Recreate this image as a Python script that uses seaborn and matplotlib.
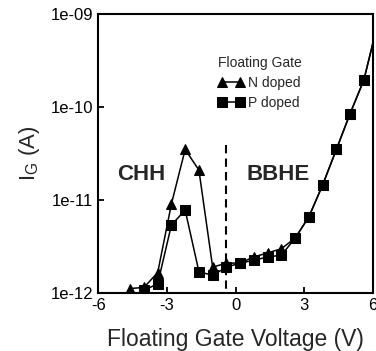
import numpy as np
import pandas as pd
import matplotlib
matplotlib.use("Agg")
import matplotlib.pyplot as plt
import seaborn as sns

# gate voltage (V) and gate current (A)
v_n = [-4.6, -4.0, -3.4, -2.8, -2.2, -1.6, -1.0, -0.4, 0.2, 0.8, 1.4, 2.0,
       2.6, 3.2, 3.8, 4.4, 5.0, 5.6, 6.2]
ig_n = [1.12e-12, 1.15e-12, 1.66e-12, 9.1e-12, 3.5e-11, 2.1e-11, 1.9e-12,
        2.1e-12, 2.1e-12, 2.45e-12, 2.7e-12, 3.0e-12, 3.9e-12, 6.6e-12,
        1.45e-11, 3.5e-11, 8.5e-11, 1.95e-10, 7.8e-10]
v_p = [-4.0, -3.4, -2.8, -2.2, -1.6, -1.0, -0.4, 0.2, 0.8, 1.4, 2.0,
       2.6, 3.2, 3.8, 4.4, 5.0, 5.6, 6.2]
ig_p = [1.07e-12, 1.26e-12, 5.4e-12, 7.8e-12, 1.7e-12, 1.55e-12, 1.9e-12,
        2.1e-12, 2.25e-12, 2.45e-12, 2.55e-12, 3.9e-12, 6.6e-12, 1.45e-11,
        3.5e-11, 8.5e-11, 1.95e-10, 7.8e-10]
series = ["N doped", "P doped"]
boundary_v = -0.43
yticks = [1e-12, 1e-11, 1e-10, 1e-9]
ytick_labels = ["1e-12", "1e-11", "1e-10", "1e-09"]
xticks = [-6, -3, 0, 3, 6]

df = pd.DataFrame({
    "V": v_n + v_p,
    "IG": ig_n + ig_p,
    "doping": [series[0]] * len(v_n) + [series[1]] * len(v_p),
})

sns.set_style("ticks")
plt.rcParams["font.family"] = ["Liberation Sans", "DejaVu Sans"]
plt.rcParams["mathtext.default"] = "regular"

fig = plt.figure(figsize=(3.76, 3.51), dpi=100)
ax = fig.add_axes([0.261, 0.165, 0.731, 0.795])

sns.lineplot(data=df, x="V", y="IG", hue="doping", style="doping",
             palette={s: "black" for s in series},
             markers={"N doped": "^", "P doped": "s"}, dashes=False,
             markersize=7, markeredgecolor="black", linewidth=1.1,
             ax=ax, legend=True)

ax.set_yscale("log")
ax.set_xlim(-6, 6)
ax.set_ylim(1e-12, 1e-9)
ax.set_yticks(yticks)
ax.set_yticklabels(ytick_labels)
ax.yaxis.set_minor_locator(matplotlib.ticker.NullLocator())
ax.set_xticks(xticks)
ax.set_xticklabels([str(t) for t in xticks])
ax.tick_params(direction="in", length=4, width=1.3, labelsize=12, colors="black")

for s in ax.spines.values():
    s.set_linewidth(1.5)
    s.set_color("black")

ax.plot([boundary_v, boundary_v], [3.9e-11, 1e-12], ls=(0, (4, 2.5)),
        color="black", lw=1.5)

ax.text(-4.1, 1.9e-11, "CHH", fontsize=16, fontweight="bold",
        ha="center", va="center")
ax.text(1.85, 1.9e-11, "BBHE", fontsize=16, fontweight="bold",
        ha="center", va="center")

handles, labels = ax.get_legend_handles_labels()
leg = ax.legend(handles, labels, title="Floating Gate", frameon=False,
                numpoints=2, handlelength=1.9, handletextpad=0.3,
                fontsize=10, title_fontsize=10, alignment="left",
                loc="upper left", bbox_to_anchor=(0.40, 0.885),
                labelspacing=0.45, borderpad=0.2)

ax.set_xlabel("Floating Gate Voltage (V)", fontsize=16.5, labelpad=11)
ax.set_ylabel("I$_G$ (A)", fontsize=16, labelpad=6)

fig.savefig("out.png", dpi=100)
